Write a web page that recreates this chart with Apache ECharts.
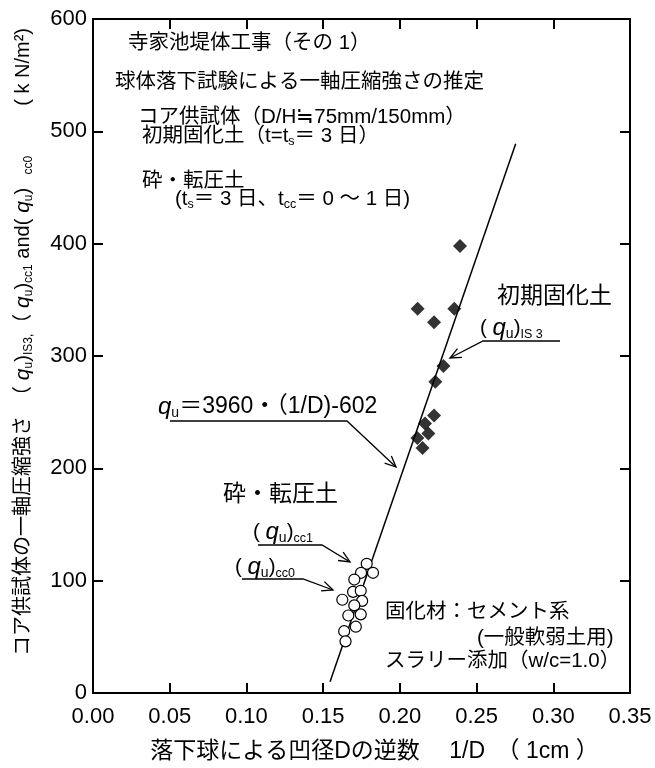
<!DOCTYPE html>
<html>
<head>
<meta charset="utf-8">
<script src="https://cdn.jsdelivr.net/npm/echarts@6/dist/echarts.min.js"></script>
<style>
html, body { margin: 0; padding: 0; background: #fff; }
#main { width: 655px; height: 768px; }
</style>
</head>
<body>
<div id="main"></div>
<script>
// 初期固化土 (qu)IS3 : 1/D と qu
var is3X = [0.2392, 0.2116, 0.2355, 0.2223, 0.2284, 0.2231, 0.2223, 0.2164, 0.2186, 0.2114, 0.2148];
var is3Y = [398, 342, 342, 330, 291, 277, 247, 240, 231, 227, 218];

// 砕・転圧土 (qu)cc1, (qu)cc0
var ccX = [0.1784, 0.1747, 0.1825, 0.1703, 0.1695, 0.1745, 0.1625, 0.1754, 0.1703, 0.1745, 0.1664, 0.1713, 0.1637, 0.1646];
var ccY = [115, 107, 107, 101, 90, 91, 83, 82, 78, 70, 69, 59, 55, 46];

// 回帰直線 qu=3960・(1/D)-602 の両端
var fitX = [0.1545, 0.2755];
var fitY = [10, 489];

// 軸
var xMin = 0, xMax = 0.35, xStep = 0.05;
var yMin = 0, yMax = 600, yStep = 100;

function pairs(xs, ys) {
    return xs.map(function (x, i) { return [x, ys[i]]; });
}

var FONT = "'Liberation Sans', 'Noto Sans CJK JP', sans-serif";

// 注記用の rich スタイル（graphic 用は fill）
var gRich = {
    n: {fontSize: 20.5, lineHeight: 24, fontFamily: FONT, fill: '#000'},
    b: {fontSize: 23, lineHeight: 26, fontFamily: FONT, fill: '#000'},
    f: {fontSize: 23, lineHeight: 26, fontFamily: FONT, fill: '#000'},
    q: {fontSize: 24, lineHeight: 26, fontFamily: FONT, fontStyle: 'italic', fill: '#000'},
    s: {fontSize: 12.5, lineHeight: 12, fontFamily: FONT, verticalAlign: 'bottom', fill: '#000'},
    u: {fontSize: 14, lineHeight: 13, fontFamily: FONT, verticalAlign: 'bottom', fill: '#000'}
};

function label(x, y, text) {
    return {
        type: 'text', x: x, y: y, z: 10,
        style: {
            text: text, rich: gRich, fontFamily: FONT, fontSize: 20, fill: '#000',
            align: 'left', textAlign: 'left', verticalAlign: 'middle', textVerticalAlign: 'middle'
        }
    };
}

function arrow(pts) {
    var n = pts.length, a = pts[n - 2], b = pts[n - 1];
    var ang = Math.atan2(b[1] - a[1], b[0] - a[0]);
    var L = 12, w = 0.42;
    var h1 = [b[0] - L * Math.cos(ang - w), b[1] - L * Math.sin(ang - w)];
    var h2 = [b[0] - L * Math.cos(ang + w), b[1] - L * Math.sin(ang + w)];
    var st = {stroke: '#000', fill: 'none', lineWidth: 1.3};
    return [
        {type: 'polyline', z: 10, shape: {points: pts}, style: st},
        {type: 'polyline', z: 10, shape: {points: [h1, b, h2]}, style: st}
    ];
}

var graphics = [
    label(128, 43, '{n|寺家池堤体工事（その 1）}'),
    label(115, 82, '{n|球体落下試験による一軸圧縮強さの推定}'),
    label(138, 117, '{n|コア供試体（D/H≒75mm/150mm）}'),
    label(142, 136, '{n|初期固化土（t=t}{s|s}{n|＝ 3 日）}'),
    label(142, 181, '{n|砕・転圧土}'),
    label(175, 199, '{n|(t}{s|s}{n|＝ 3 日、t}{s|cc}{n|＝ 0 ～ 1 日)}'),
    label(497, 297, '{b|初期固化土}'),
    label(480, 328, '{n|( }{q|q}{u|u}{n|)}{s|IS 3}'),
    label(158, 407, '{q|q}{u|u}{f|＝3960・（1/D)-602}'),
    label(223, 495, '{b|砕・転圧土}'),
    label(253, 532, '{n|( }{q|q}{u|u}{n|)}{s|cc1}'),
    label(235, 567, '{n|( }{q|q}{u|u}{n|)}{s|cc0}'),
    label(385, 612, '{n|固化材：セメント系}'),
    label(477, 638, '{n|(一般軟弱土用)}'),
    label(385, 661, '{n|スラリー添加（w/c=1.0）}')
].concat(
    arrow([[560, 341], [483, 341], [450, 358]]),
    arrow([[170, 421], [347, 421], [396, 467]]),
    arrow([[258, 545], [322, 545], [350, 562]]),
    arrow([[242, 579], [303, 579], [333, 590]])
);

var axisLine = {show: true, onZero: false, lineStyle: {color: '#000', width: 2}};
var axisTick = {show: true, inside: true, length: 10, lineStyle: {color: '#000', width: 2}};
var tickLabel = {color: '#000', fontSize: 22, fontFamily: FONT};

var chart = echarts.init(document.getElementById('main'));
chart.setOption({
    animation: false,
    backgroundColor: '#fff',
    grid: {left: 93, right: 25, top: 19, bottom: 75},
    xAxis: [
        {
            type: 'value', min: xMin, max: xMax, interval: xStep, position: 'bottom',
            axisLine: axisLine, axisTick: axisTick, splitLine: {show: false},
            axisLabel: Object.assign({margin: 13, formatter: function (v) { return v.toFixed(2); }}, tickLabel),
            name: '落下球による凹径Dの逆数　 1/D　（ 1cm ）',
            nameLocation: 'middle', nameGap: 47,
            nameTextStyle: {color: '#000', fontSize: 23, fontFamily: FONT, padding: [0, 0, 0, 26]}
        },
        {
            type: 'value', min: xMin, max: xMax, interval: xStep, position: 'top',
            axisLine: axisLine, axisTick: axisTick, splitLine: {show: false}, axisLabel: {show: false}
        }
    ],
    yAxis: [
        {
            type: 'value', min: yMin, max: yMax, interval: yStep, position: 'left',
            axisLine: axisLine, axisTick: axisTick, splitLine: {show: false},
            axisLabel: Object.assign({margin: 6}, tickLabel),
            name: '{n|コア供試体の一軸圧縮強さ　（}{q| q}{s|u}{n|)}{s|IS3,}{n|（}{q| q}{s|u}{n|)}{s|cc1}{n| and(}{q| q}{s|u}{n|)}{s|    cc0}{n|         ( k N/m²)}',
            nameLocation: 'middle', nameRotate: 90, nameGap: 58,
            nameTextStyle: {
                color: '#000', fontFamily: FONT, fontSize: 20, padding: [0, 0, 0, 28],
                rich: {
                    n: {fontSize: 20, lineHeight: 24, fontFamily: FONT, color: '#000'},
                    q: {fontSize: 21, lineHeight: 24, fontFamily: FONT, fontStyle: 'italic', color: '#000'},
                    s: {fontSize: 12, lineHeight: 12, fontFamily: FONT, verticalAlign: 'bottom', color: '#000'}
                }
            }
        },
        {
            type: 'value', min: yMin, max: yMax, interval: yStep, position: 'right',
            axisLine: axisLine, axisTick: axisTick, splitLine: {show: false}, axisLabel: {show: false}
        }
    ],
    series: [
        {
            name: 'fit', type: 'line', data: pairs(fitX, fitY), symbol: 'none', z: 1,
            lineStyle: {color: '#000', width: 1.5}
        },
        {
            name: '(qu)IS3', type: 'scatter', data: pairs(is3X, is3Y), symbol: 'diamond', symbolSize: 14, z: 3,
            itemStyle: {color: '#000'}
        },
        {
            name: '(qu)cc', type: 'scatter', data: pairs(ccX, ccY), symbol: 'circle', symbolSize: 11, z: 3,
            itemStyle: {color: '#fff', borderColor: '#000', borderWidth: 1.2, opacity: 1}
        }
    ],
    graphic: graphics
});
</script>
</body>
</html>
